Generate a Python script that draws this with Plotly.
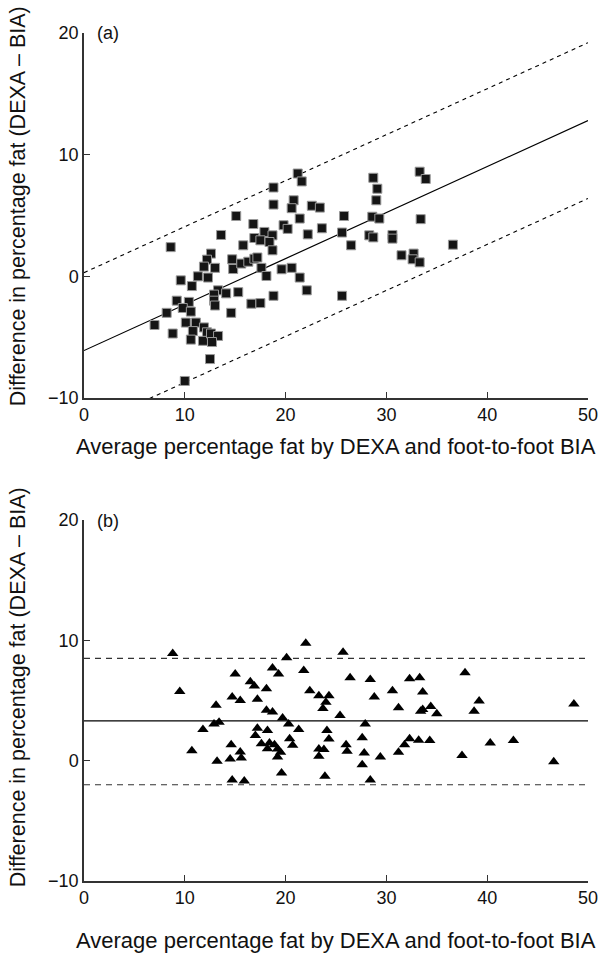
import plotly.graph_objects as go

# ---- Panel (a) data: DEXA vs foot-to-foot BIA (squares)
xa = [15.1, 16.8, 13.6, 16.9, 15.8, 8.6, 12.6, 12.2, 14.7, 11.9, 13.0, 14.8, 15.6, 16.3, 16.9, 17.2,
      9.6, 11.3, 12.3, 10.7, 13.3, 12.9, 14.1, 15.3, 12.9, 13.0, 16.6, 14.6, 9.2, 10.4, 9.8, 10.6,
      8.2, 7.0, 10.1, 11.1, 8.8, 10.8, 11.9, 12.2, 10.6, 11.8, 12.6, 13.3, 12.7, 12.5, 10.0,
      21.2, 21.6, 18.8, 28.7, 29.1, 29.0, 33.3, 33.9, 18.8, 20.8, 20.6, 22.6, 23.4, 25.8, 21.4,
      28.6, 29.3, 33.4, 17.9, 17.5, 18.7, 18.4, 19.8, 20.2, 22.2, 23.6, 25.6, 26.5, 28.3, 28.7,
      30.6, 30.6, 36.6, 18.7, 17.6, 18.1, 19.6, 20.6, 21.4, 22.1, 31.5, 32.7, 32.6, 33.3, 25.6,
      18.8, 17.5]
ya = [4.96, 4.3, 3.4, 3.15, 2.55, 2.4, 1.87, 1.37, 1.4, 0.8, 0.7, 0.6, 1.05, 1.2, 1.45, 1.55,
      -0.33, 0.0, -0.1, -0.8, -1.15, -1.5, -1.4, -1.3, -2.0, -2.4, -2.25, -3.0, -2.0, -2.1, -2.6, -2.9,
      -3.0, -4.0, -3.8, -3.8, -4.7, -4.5, -4.2, -4.6, -5.2, -5.3, -4.7, -4.9, -5.4, -6.8, -8.6,
      8.45, 7.8, 7.3, 8.1, 7.2, 6.25, 8.6, 8.0, 5.9, 6.25, 5.6, 5.8, 5.65, 4.96, 4.75,
      4.9, 4.75, 4.7, 3.65, 2.96, 3.37, 2.82, 4.2, 3.9, 3.45, 3.95, 3.6, 2.55, 3.37, 3.2,
      3.4, 3.1, 2.6, 2.14, 0.7, 0.03, 0.58, 0.7, -0.1, -1.15, 1.73, 1.87, 1.4, 1.15, -1.6,
      -1.6, -2.2]

# regression and limits of agreement for (a)
reg_a_intercept = -6.1
reg_a_slope = 0.378
loa_a_offset = 6.4
line_x = [0, 50]

# ---- Panel (b) data (triangles)
xb = [8.8, 9.5, 15.0, 16.5, 16.9, 14.7, 15.5, 17.2, 13.1, 12.9, 13.4, 11.8, 17.2, 17.0, 14.6, 15.5,
      10.7, 13.2, 14.5, 15.6, 14.7, 15.9,
      22.0, 25.7, 20.1, 18.7, 19.3, 21.8, 18.1, 22.4, 23.3, 24.3, 24.0, 23.7, 26.4, 28.4, 28.8, 30.6,
      32.3, 33.3, 33.6, 31.2, 33.4, 33.6, 18.1, 18.7, 25.4, 19.7, 20.3, 18.2, 21.3, 24.1, 27.9, 20.4,
      24.3, 27.6, 32.3, 33.2, 17.6, 18.4, 18.9, 20.7, 26.0, 31.8, 18.2, 19.2, 19.5, 23.3, 23.8, 26.1,
      27.8, 31.2, 19.2, 23.3, 29.4, 27.6, 19.6, 23.9, 28.4,
      37.8, 39.2, 48.6, 34.4, 35.0, 38.7, 34.3, 40.3, 42.6, 37.5, 46.6]
yb = [8.9, 5.75, 7.2, 6.55, 6.2, 5.3, 5.0, 5.1, 4.6, 3.05, 3.2, 2.6, 2.7, 2.1, 1.33, 0.72,
      0.83, -0.05, 0.14, 0.22, -1.6, -1.7,
      9.75, 9.0, 8.55, 7.7, 7.2, 7.5, 5.97, 5.8, 5.4, 5.4, 4.86, 4.33, 6.9, 6.75, 5.3, 5.8,
      6.8, 6.9, 5.7, 4.4, 4.1, 4.25, 4.2, 4.05, 3.75, 3.55, 3.05, 2.5, 2.6, 2.5, 3.05, 1.83,
      1.8, 1.9, 1.83, 1.7, 1.4, 1.47, 1.33, 1.28, 1.33, 1.33, 1.0, 0.97, 0.7, 0.97, 0.92, 0.78,
      0.64, 0.7, 0.3, 0.36, 0.3, -0.33, -1.03, -1.3, -1.6,
      7.3, 4.95, 4.7, 4.5, 3.9, 4.1, 1.67, 1.47, 1.67, 0.42, -0.1]
mean_b = 3.3
upper_b = 8.5
lower_b = -2.0

tick_vals_x = [0, 10, 20, 30, 40, 50]
tick_vals_y = [-10, 0, 10, 20]
x_title = "Average percentage fat by DEXA and foot-to-foot BIA"
y_title = "Difference in percentage fat (DEXA \u2013 BIA)"

FONT = "Liberation Sans, Arial, sans-serif"
AX = "#333333"
TXT = "#111111"

fig = go.Figure()

reg_y = [reg_a_intercept + reg_a_slope * v for v in line_x]
fig.add_trace(go.Scatter(x=line_x, y=reg_y, mode="lines", line=dict(color="black", width=1.2),
                         xaxis="x", yaxis="y", showlegend=False))
fig.add_trace(go.Scatter(x=line_x, y=[v + loa_a_offset for v in reg_y], mode="lines",
                         line=dict(color="black", width=1.1, dash="4px,4px"),
                         xaxis="x", yaxis="y", showlegend=False))
fig.add_trace(go.Scatter(x=line_x, y=[v - loa_a_offset for v in reg_y], mode="lines",
                         line=dict(color="black", width=1.1, dash="4px,4px"),
                         xaxis="x", yaxis="y", showlegend=False))
fig.add_trace(go.Scatter(x=xa, y=ya, mode="markers",
                         marker=dict(symbol="square", size=9, color="#151515",
                                     line=dict(color="#999999", width=1)),
                         xaxis="x", yaxis="y", showlegend=False, cliponaxis=False))

fig.add_trace(go.Scatter(x=line_x, y=[mean_b, mean_b], mode="lines",
                         line=dict(color="black", width=1.2), xaxis="x2", yaxis="y2", showlegend=False))
fig.add_trace(go.Scatter(x=line_x, y=[upper_b, upper_b], mode="lines",
                         line=dict(color="#333333", width=1.1, dash="6px,5px"),
                         xaxis="x2", yaxis="y2", showlegend=False))
fig.add_trace(go.Scatter(x=line_x, y=[lower_b, lower_b], mode="lines",
                         line=dict(color="#333333", width=1.1, dash="6px,5px"),
                         xaxis="x2", yaxis="y2", showlegend=False))
fig.add_trace(go.Scatter(x=xb, y=yb, mode="markers",
                         marker=dict(symbol="triangle-up", size=10, color="black",
                                     line=dict(width=0)),
                         xaxis="x2", yaxis="y2", showlegend=False, cliponaxis=False))

axis_common = dict(showgrid=False, zeroline=False, showline=True, linecolor=AX, linewidth=1.5,
                   ticks="inside", ticklen=6, tickcolor=AX, tickwidth=1.2,
                   tickfont=dict(family=FONT, size=18, color=TXT))

W, H = 610, 956
PL, PR, PT, PB = 84, 590, 33, 881          # plot-area edges in pixels
L, R, T, B = PL, W - PR, PT, H - PB

def yp(py):
    return (PB - py) / (PB - PT)

def xp(px):
    return (px - PL) / (PR - PL)

fig.update_layout(
    width=W, height=H, paper_bgcolor="white", plot_bgcolor="white",
    margin=dict(l=L, r=R, t=T, b=B, pad=0),
    xaxis=dict(domain=[0, 1], range=[0, 50], tickvals=tick_vals_x, anchor="y", **axis_common),
    yaxis=dict(domain=[yp(398), 1], range=[-10, 20], tickvals=tick_vals_y, anchor="x", **axis_common),
    xaxis2=dict(domain=[0, 1], range=[0, 50], tickvals=tick_vals_x, anchor="y2", **axis_common),
    yaxis2=dict(domain=[0, yp(520)], range=[-10, 20], tickvals=tick_vals_y, anchor="x2", **axis_common),
    font=dict(family=FONT, size=18, color=TXT),
)

xtf = dict(family=FONT, size=22, color=TXT)
ytf = dict(family=FONT, size=21.5, color=TXT)
lf = dict(family=FONT, size=18, color=TXT)
ann = [
    dict(text=x_title, x=xp(337), y=yp(446), font=xtf, xanchor="center", yanchor="middle"),
    dict(text=x_title, x=xp(337), y=yp(940), font=xtf, xanchor="center", yanchor="middle"),
    dict(text=y_title, x=xp(18), y=yp(206), font=ytf, textangle=-90, xanchor="center", yanchor="middle"),
    dict(text=y_title, x=xp(18), y=yp(687), font=ytf, textangle=-90, xanchor="center", yanchor="middle"),
    dict(text="(a)", x=xp(95), y=yp(33), font=lf, xanchor="left", yanchor="middle"),
    dict(text="(b)", x=xp(95), y=yp(521), font=lf, xanchor="left", yanchor="middle"),
]
for a in ann:
    a.update(xref="paper", yref="paper", showarrow=False)
fig.update_layout(annotations=ann)

# remove the browser's default 8px body margin so the figure fills the window exactly
fig.write_html("out.html", config={"displayModeBar": False},
               post_script="document.body.style.margin='0';document.body.style.overflow='hidden';")
